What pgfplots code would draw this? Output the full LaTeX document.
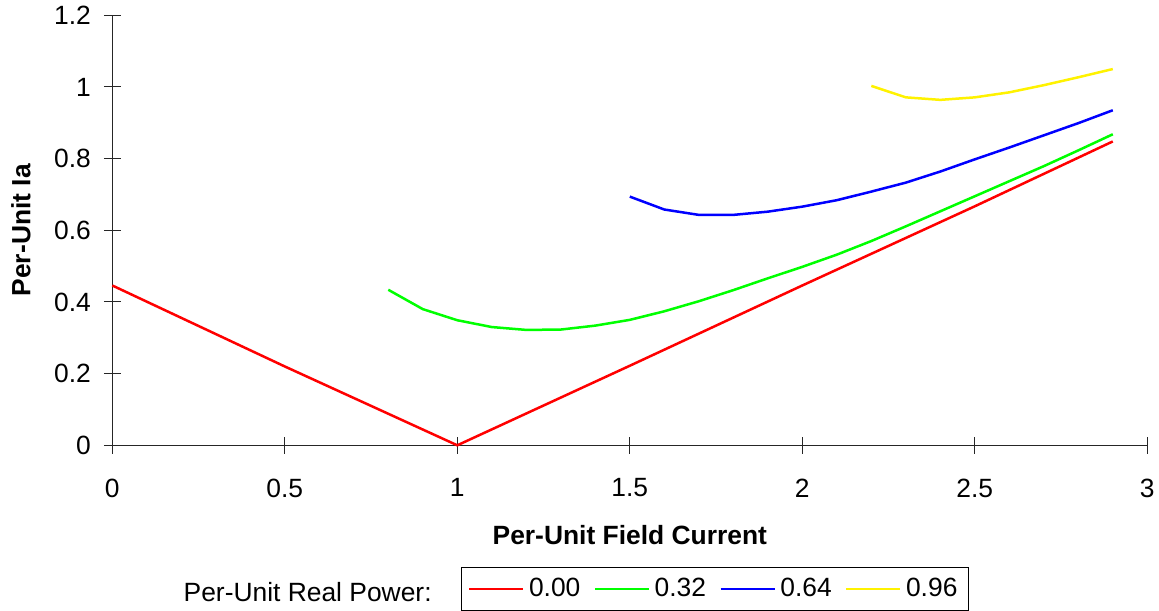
\documentclass[border=0pt]{standalone}
\usepackage{fontspec}
\setmainfont{Liberation Sans}
\usepackage{pgfplots}
\pgfplotsset{compat=1.18}
\begin{document}
\fontsize{13.2bp}{15.8bp}\selectfont
\begin{tikzpicture}
\useasboundingbox (0,0) rectangle (579.5bp,305.5bp);
\begin{axis}[
  at={(56.15bp,82.85bp)}, anchor=south west,
  scale only axis, width=517.5bp, height=215bp,
  xmin=0, xmax=3, ymin=0, ymax=1.2,
  axis lines*=left,
  axis line style={line width=0.6bp, black!85},
  xtick={0,0.5,1,1.5,2,2.5,3},
  ytick={0,0.2,0.4,0.6,0.8,1,1.2},
  tick align=center, major tick length=8.3bp,
  tick style={line width=0.5bp, black!85},
  /pgf/number format/assume math mode=true,
  xticklabel style={anchor=north, yshift=-8bp},
  yticklabel style={anchor=east, xshift=-2bp},
  every axis x label/.style={at={(axis description cs:0.5,-0.2086)}, anchor=center},
  every axis y label/.style={at={(axis description cs:-0.0882,0.5)}, anchor=center, rotate=90},
  xlabel={\bfseries Per-Unit Field Current},
  ylabel={\bfseries Per-Unit Ia},
  legend columns=4,
  legend style={at={(axis description cs:0.5823,-0.3342)}, anchor=center,
    draw=black, line width=0.5bp, inner xsep=3.5bp, inner ysep=3bp,
    nodes={inner sep=2.2bp},
    /tikz/every even column/.append style={column sep=4.5bp}},
  legend image code/.code={\draw[#1, line width=1.25bp] (0bp,0bp) -- (27bp,0bp);},
  clip=false,
]
\addplot[red, line width=1.25bp] coordinates {
 (0,0.446) (0.5,0.220) (1,0) (1.5,0.222) (2,0.446) (2.5,0.667) (2.9,0.848)};
\addlegendentry{0.00}
\addplot[green, line width=1.25bp] coordinates {
 (0.8,0.434) (0.9,0.380) (1.0,0.349) (1.1,0.330) (1.2,0.322) (1.3,0.323)
 (1.4,0.334) (1.5,0.350) (1.6,0.374) (1.7,0.402) (1.8,0.433) (1.9,0.466)
 (2.0,0.498) (2.1,0.532) (2.2,0.570) (2.3,0.611) (2.4,0.653) (2.5,0.695)
 (2.6,0.737) (2.7,0.779) (2.8,0.823) (2.9,0.868)};
\addlegendentry{0.32}
\addplot[blue, line width=1.25bp] coordinates {
 (1.5,0.694) (1.6,0.658) (1.7,0.643) (1.8,0.643) (1.9,0.652) (2.0,0.666)
 (2.1,0.684) (2.2,0.708) (2.3,0.733) (2.4,0.764) (2.5,0.798) (2.6,0.831)
 (2.7,0.865) (2.8,0.899) (2.9,0.935)};
\addlegendentry{0.64}
\addplot[yellow, line width=1.25bp] coordinates {
 (2.2,1.003) (2.3,0.971) (2.4,0.964) (2.5,0.971) (2.6,0.985) (2.7,1.005)
 (2.8,1.027) (2.9,1.050)};
\addlegendentry{0.96}
\end{axis}
\node[anchor=base west, inner sep=0pt] at (91.65bp,4.65bp) {Per-Unit Real Power:};
\end{tikzpicture}
\end{document}
